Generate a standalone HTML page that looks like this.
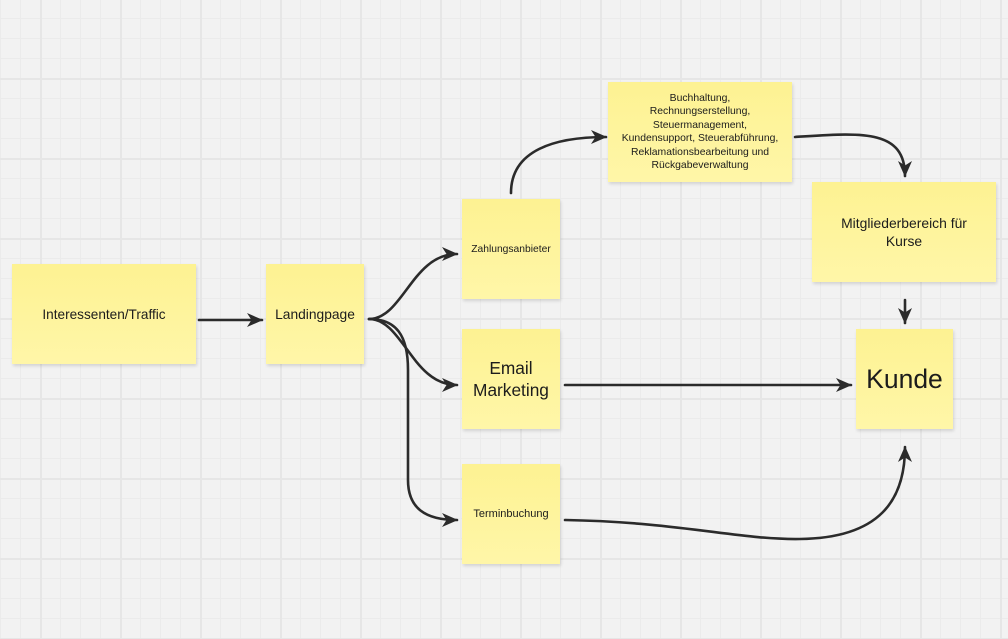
<!DOCTYPE html>
<html>
<head>
<meta charset="utf-8">
<style>
  html, body { margin:0; padding:0; }
  body {
    width:1008px; height:639px; overflow:hidden; position:relative;
    background-color:#f2f2f2;
    background-image:
      linear-gradient(90deg, #e6e6e6 2px, transparent 2px),
      linear-gradient(#e6e6e6 2px, transparent 2px),
      linear-gradient(90deg, #ebebeb 1px, transparent 1px),
      linear-gradient(#ebebeb 1px, transparent 1px);
    background-size: 80px 80px, 80px 80px, 20px 20px, 20px 20px;
    background-position: 40px 0, 0 78px, 0 0, 0 18px;
    font-family: "Liberation Sans", sans-serif;
    color:#1c1c1c;
  }
  .n {
    position:absolute;
    background: linear-gradient(#fdf292, #fff6a8);
    box-shadow: 1px 2px 3px rgba(0,0,0,0.13);
    display:flex; align-items:center; justify-content:center;
    text-align:center; box-sizing:border-box;
  }
  svg { position:absolute; left:0; top:0; }
</style>
</head>
<body>
  <div class="n" style="left:12px;top:264px;width:184px;height:100px;font-size:13.6px;">Interessenten/Traffic</div>
  <div class="n" style="left:266px;top:264px;width:98px;height:100px;font-size:13.8px;">Landingpage</div>
  <div class="n" style="left:462px;top:199px;width:98px;height:100px;font-size:10.3px;">Zahlungsanbieter</div>
  <div class="n" style="left:462px;top:329px;width:98px;height:100px;font-size:17.3px;line-height:22px;">Email<br>Marketing</div>
  <div class="n" style="left:462px;top:464px;width:98px;height:100px;font-size:11px;">Terminbuchung</div>
  <div class="n" style="left:608px;top:82px;width:184px;height:100px;font-size:10.4px;line-height:13.5px;">Buchhaltung,<br>Rechnungserstellung,<br>Steuermanagement,<br>Kundensupport, Steuerabführung,<br>Reklamationsbearbeitung und<br>Rückgabeverwaltung</div>
  <div class="n" style="left:812px;top:182px;width:184px;height:100px;font-size:13.9px;line-height:18px;">Mitgliederbereich für<br>Kurse</div>
  <div class="n" style="left:856px;top:329px;width:97px;height:100px;font-size:26.5px;">Kunde</div>

  <svg width="1008" height="639" viewBox="0 0 1008 639">
    <defs>
      <marker id="a" viewBox="0 0 16 14" refX="15" refY="7" markerWidth="16" markerHeight="14" markerUnits="userSpaceOnUse" orient="auto">
        <path d="M0,0 L16,7 L0,14 L4.5,7 Z" fill="#2b2b2b"/>
      </marker>
    </defs>
    <g fill="none" stroke="#2b2b2b" stroke-width="2.6" stroke-linecap="round">
      <path d="M199,320 L262,320" marker-end="url(#a)"/>
      <path d="M369,319 C403,319 412,254 457,254" marker-end="url(#a)"/>
      <path d="M369,319 C403,319 412,385 457,385" marker-end="url(#a)"/>
      <path d="M369,319 C396,319 408,335 408,370 L408,480 C408,508 425,520 457,520" marker-end="url(#a)"/>
      <path d="M511,193 C511,150 555,137 606,137" marker-end="url(#a)"/>
      <path d="M795,137 C860,133 905,128 905,176" marker-end="url(#a)"/>
      <path d="M905,300 L905,323" marker-end="url(#a)"/>
      <path d="M565,385 L851,385" marker-end="url(#a)"/>
      <path d="M565,520 C680,522 740,540 800,539 C880,538 905,500 905,447" marker-end="url(#a)"/>
    </g>
  </svg>
</body>
</html>
